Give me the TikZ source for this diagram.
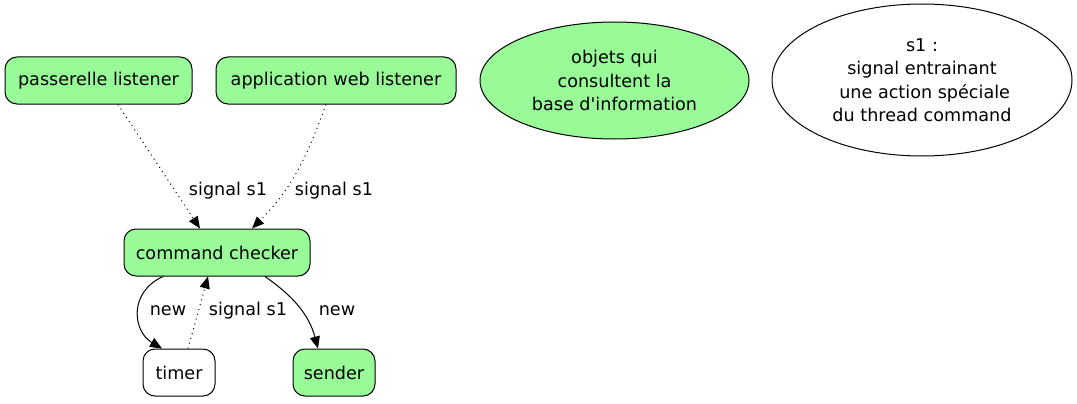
\documentclass[tikz,border=0pt]{standalone}
\usepackage{fontspec}
\setmainfont{DejaVu Sans}
\usetikzlibrary{arrows.meta,shapes.geometric}
\definecolor{palegreen}{HTML}{98FB98}
\tikzset{
  thread/.style={rectangle,rounded corners=9pt,draw,line width=0.75pt,minimum height=35.25pt,inner sep=0pt},
  sig/.style={dash pattern=on 0.75pt off 3pt,line width=0.75pt},
  creat/.style={line width=0.75pt},
  tip/.style={-{Triangle[length=9pt,width=7.5pt]}}
}
\begin{document}
\begin{tikzpicture}[x=0.75pt,y=-0.75pt,font=\fontsize{13.2}{17.6}\selectfont]
				\useasboundingbox (0,0) rectangle (1077,403);
				
				\begin{scope}[every node/.style={thread}]
					\node[fill=palegreen,minimum width=140.25pt] (passerelle) at (98.5,80.5) {passerelle listener};
					\node[fill=palegreen,minimum width=180pt] (appweb) at (336,80.5) {application web listener};
					\node[fill=palegreen,minimum width=139.5pt] (checker) at (217,252.5) {command checker};
					\node[fill=white,minimum width=54pt] (timer) at (179,372.5) {timer};
					\node[fill=palegreen,minimum width=61.5pt] (sender) at (334,372.5) {sender};
				\end{scope}
				
				\node[ellipse,draw,line width=0.75pt,fill=palegreen,minimum width=201.75pt,minimum height=87.75pt,align=center,inner sep=0pt] (objets) at (614.5,80.5) {objets qui\\consultent la\\base d\textquotesingle information};
				\node[ellipse,draw,line width=0.75pt,minimum width=225pt,minimum height=114pt,align=center,inner sep=0pt] (legende) at (922,80) {s1 :\\signal entrainant\\\hspace*{0.3em}une action spéciale\\du thread command};
				
				\draw [sig,tip] ([xshift=14.6pt]passerelle.south) -- ([xshift=-12.75pt]checker.north);
				\draw [sig,tip] ([xshift=-7.5pt]appweb.south) to[out=-110,in=45] ([xshift=26.25pt]checker.north);
				\draw [creat,tip] ([xshift=-40.5pt]checker.south) .. controls +(-35,16) and +(-29,-17) .. ([xshift=-12.75pt]timer.north);
				\draw [sig,tip] ([xshift=6.75pt]timer.north) -- ([xshift=-6.75pt]checker.south);
				\draw [creat,tip] ([xshift=36pt]checker.south) to[out=-35,in=105] ([xshift=-12pt]sender.north);
				
				\node (lblPass) at (228,191) {signal s1};
				\node (lblWeb) at (334,191) {signal s1};
				\node (lblTimerNew) at (168,311) {new};
				\node (lblTimerSig) at (248,311) {signal s1};
				\node (lblSenderNew) at (337,311) {new};
			\end{tikzpicture}
\end{document}
